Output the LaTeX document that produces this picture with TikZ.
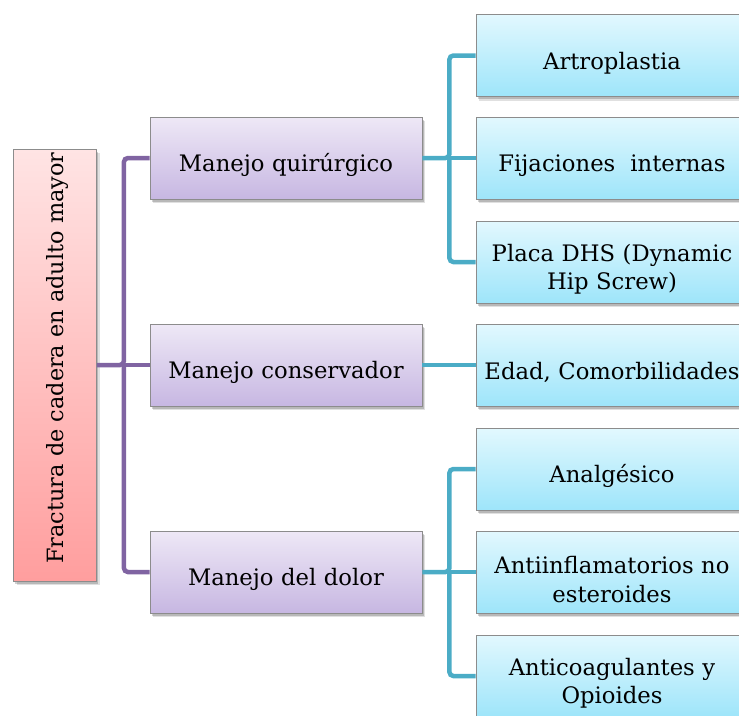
\documentclass[tikz,border=0pt]{standalone}
\usepackage{fontspec}
\setmainfont{DejaVu Serif}
\usetikzlibrary{shadows}
\definecolor{lpurple}{RGB}{128,100,162}
\definecolor{lblue}{RGB}{75,172,198}
\definecolor{pinkT}{RGB}{255,228,228}
\definecolor{pinkB}{RGB}{255,158,158}
\definecolor{purT}{RGB}{238,232,246}
\definecolor{purB}{RGB}{199,183,226}
\definecolor{bluT}{RGB}{226,248,254}
\definecolor{bluB}{RGB}{158,229,250}
\definecolor{bordergray}{RGB}{140,140,140}
\newcommand{\lowstrut}{\rule{0pt}{32pt}}
\tikzset{
  boxbase/.style={draw=bordergray, line width=0.8pt, align=center, inner sep=2pt,
    font=\fontsize{22.7}{28.5}\selectfont,
    drop shadow={shadow xshift=3pt, shadow yshift=-4pt, opacity=0.12, fill=black},
    drop shadow={shadow xshift=1.5pt, shadow yshift=-2.5pt, opacity=0.18, fill=black}},
  rootbox/.style={boxbase, top color=pinkT, bottom color=pinkB, minimum width=83pt, minimum height=432pt},
  purbox/.style={boxbase, top color=purT, bottom color=purB, minimum width=272pt, minimum height=82pt, text width=262pt},
  blubox/.style={boxbase, top color=bluT, bottom color=bluB, minimum width=272pt, minimum height=82pt, text width=262pt},
  pline/.style={draw=lpurple, line width=4.5pt, rounded corners=4pt},
  bline/.style={draw=lblue, line width=4.5pt, rounded corners=4pt},
}
\begin{document}
\begin{tikzpicture}[x=1pt,y=1pt]
\useasboundingbox (0,0) rectangle (739,-715);
\clip (0,0) rectangle (739,-715);
% root
\node[rootbox] (root) at (55,-365) {};
\node[rotate=90, font=\fontsize{22.4}{28.5}\selectfont] (roottext) at ([xshift=2.5pt,yshift=7pt]root.center) {Fractura de cadera en adulto mayor};
% purple
\node[purbox] (q) at (286,-158) {\lowstrut Manejo quirúrgico};
\node[purbox] (c) at (286,-365) {\lowstrut Manejo conservador};
\node[purbox] (d) at (286,-572) {\lowstrut Manejo del dolor};
% blue
\node[blubox] (b1) at (612,-55.5) {\lowstrut Artroplastia};
\node[blubox] (b2) at (612,-158) {\lowstrut Fijaciones~ internas};
\node[blubox] (b3) at (612,-262) {\lowstrut Placa DHS (Dynamic\\Hip Screw)};
\node[blubox] (b4) at (612,-365) {\lowstrut Edad, Comorbilidades};
\node[blubox] (b5) at (612,-469) {\lowstrut Analgésico};
\node[blubox] (b6) at (612,-572) {\lowstrut Antiinflamatorios no\\esteroides};
\node[blubox] (b7) at (612,-676) {\lowstrut Anticoagulantes y\\Opioides};
% connectors
\coordinate (pv) at ([xshift=27pt]root.east);
\draw[pline] (root.east) -- (pv) |- (q.west);
\draw[pline] (pv) |- (d.west);
\draw[pline] (pv) -- (c.west);
\coordinate (qv) at ([xshift=27pt]q.east);
\draw[bline] (q.east) -- (qv) |- (b1.west);
\draw[bline] (qv) |- (b3.west);
\draw[bline] (qv) -- (b2.west);
\draw[bline] (c.east) -- (b4.west);
\coordinate (dv) at ([xshift=27pt]d.east);
\draw[bline] (d.east) -- (dv) |- (b5.west);
\draw[bline] (dv) |- (b7.west);
\draw[bline] (dv) -- (b6.west);
\end{tikzpicture}
\end{document}
